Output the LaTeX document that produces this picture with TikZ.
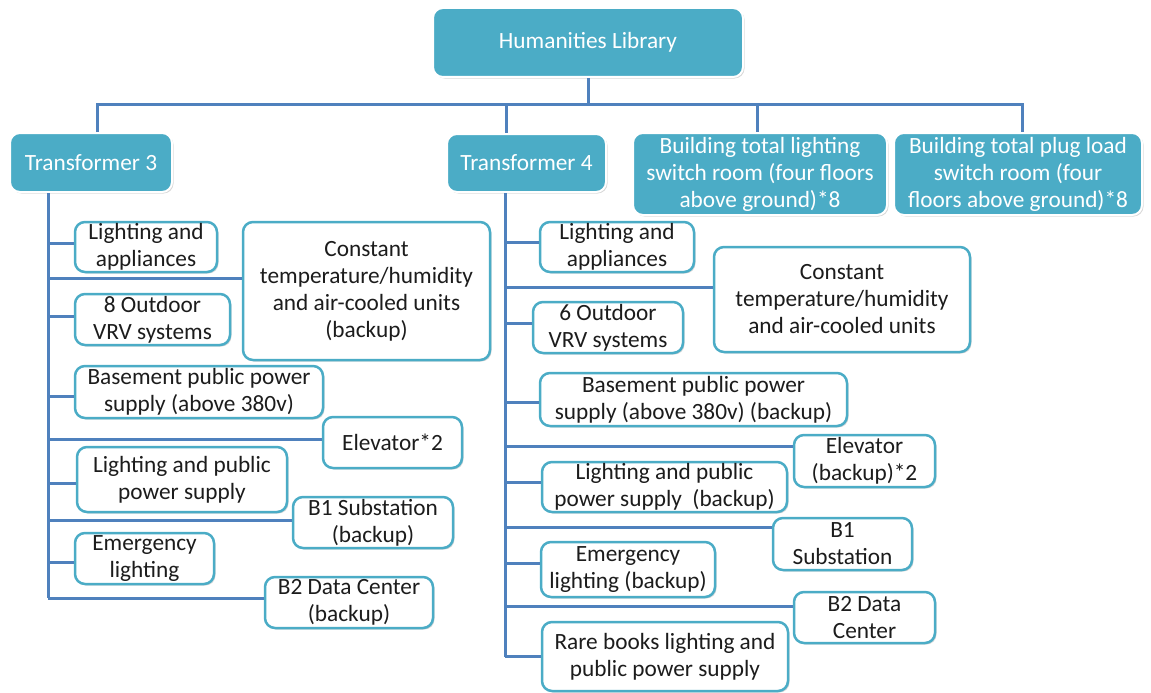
\documentclass[tikz,border=0pt]{standalone}
\usepackage{fontspec}
\setmainfont{Carlito}
\usetikzlibrary{shadows}
\definecolor{teal1}{HTML}{4BACC6}
\definecolor{wireblue}{HTML}{4F81BD}
\definecolor{txt}{HTML}{1C1C1C}
\tikzset{
  base/.style={rounded corners=10pt, inner sep=0pt, align=center,
    font=\fontsize{23.3}{27}\selectfont,
    drop shadow={shadow xshift=1.5pt, shadow yshift=-1.5pt, opacity=0.3, fill=gray}},
  headbox/.style={base, fill=teal1, draw=white, line width=2pt, text=white},
  leafbox/.style={base, fill=white, draw=teal1, line width=2.5pt, text=txt},
  wire/.style={draw=wireblue, line width=3pt},
  sz/.style n args={2}{minimum width=#1pt, minimum height=#2pt}
}
\begin{document}
\begin{tikzpicture}[x=1pt,y=-1pt]
\useasboundingbox (0,0) rectangle (1151,693);
% header boxes
\node[headbox, sz={310}{69}] (root) at (588,42.5) {Humanities Library};
\node[headbox, sz={162}{59}] (T3) at (91,162.5) {Transformer 3};
\node[headbox, sz={159}{58}] (T4) at (526.5,163) {Transformer 4};
\node[headbox, sz={254}{82}] (L) at (760,174) {Building total lighting\\switch room (four floors\\above ground)*8};
\node[headbox, sz={248}{82}] (P) at (1018,174) {Building total plug load\\switch room (four\\floors above ground)*8};
% left leaves
\node[leafbox, sz={142}{50}] (a1) at (146,247) {Lighting and\\appliances};
\node[leafbox, sz={247}{138}] (a2) at (366.5,291) {Constant\\temperature/humidity\\and air-cooled units\\(backup)};
\node[leafbox, sz={155}{51}] (a3) at (152.5,319.5) {8 Outdoor\\VRV systems};
\node[leafbox, sz={248}{52}] (a4) at (199,392) {Basement public power\\supply (above 380v)};
\node[leafbox, sz={139}{51}] (a5) at (392.5,442.5) {Elevator*2};
\node[leafbox, sz={210}{65}] (a6) at (182,479.5) {Lighting and public\\power supply};
\node[leafbox, sz={160}{51}] (a7) at (373,522.5) {B1 Substation\\(backup)};
\node[leafbox, sz={139}{51}] (a8) at (144.5,558.5) {Emergency\\lighting};
\node[leafbox, sz={168}{51}] (a9) at (349,602.5) {B2 Data Center\\(backup)};
% right leaves
\node[leafbox, sz={154}{50}] (b1) at (617,247) {Lighting and\\appliances};
\node[leafbox, sz={256}{105}] (b2) at (842,299.5) {Constant\\temperature/humidity\\and air-cooled units};
\node[leafbox, sz={150}{51}] (b3) at (608,327.5) {6 Outdoor\\VRV systems};
\node[leafbox, sz={307}{53}] (b4) at (693.5,399.5) {Basement public power\\supply (above 380v) (backup)};
\node[leafbox, sz={141}{52}] (b5) at (864.5,461) {Elevator\\(backup)*2};
\node[leafbox, sz={245}{50}] (b6) at (664.5,487) {Lighting and public\\power supply\ \ (backup)};
\node[leafbox, sz={139}{52}] (b7) at (842.5,544) {B1\\Substation};
\node[leafbox, sz={174}{55}] (b8) at (628,569.5) {Emergency\\lighting (backup)};
\node[leafbox, sz={141}{51}] (b9) at (864.5,617.5) {B2 Data\\Center};
\node[leafbox, sz={246}{69}] (b10) at (665,656.5) {Rare books lighting and\\public power supply};
% helper coordinates
\coordinate (bus) at (590,104);
\coordinate (v3) at (97,0);
\coordinate (v4) at (506,0);
\coordinate (vL) at (757,0);
\coordinate (vP) at (1022,0);
\coordinate (tr3) at (48,0);
\coordinate (tr4) at (505,0);
% top bus
\draw[wire] (root.south) -- (root.south |- bus);
\draw[wire] (v3 |- T3.north) -- (v3 |- bus) -- (vP |- bus) -- (vP |- P.north);
\draw[wire] (v4 |- bus) -- (v4 |- T4.north);
\draw[wire] (vL |- bus) -- (vL |- L.north);
% left branch points
\coordinate (pa1) at ([yshift=4pt]a1.west);
\coordinate (pa2) at ([yshift=13pt]a2.west);
\coordinate (pa3) at ([yshift=3.5pt]a3.west);
\coordinate (pa4) at ([yshift=-4pt]a4.west);
\coordinate (pa5) at ([yshift=3.5pt]a5.west);
\coordinate (pa6) at ([yshift=-3.5pt]a6.west);
\coordinate (pa7) at ([yshift=2.5pt]a7.west);
\coordinate (pa8) at ([yshift=-3.5pt]a8.west);
\coordinate (pa9) at ([yshift=4.5pt]a9.west);
\draw[wire] (tr3 |- T3.south) -- (tr3 |- pa9);
\foreach \p in {pa1,pa2,pa3,pa4,pa5,pa6,pa7,pa8,pa9}
  \draw[wire] (tr3 |- \p) -- (\p);
% right branch points
\coordinate (pb1) at ([yshift=5pt]b1.west);
\coordinate (pb2) at ([yshift=12.5pt]b2.west);
\coordinate (pb3) at ([yshift=4.5pt]b3.west);
\coordinate (pb4) at ([yshift=-2.5pt]b4.west);
\coordinate (pb5) at ([yshift=15pt]b5.west);
\coordinate (pb6) at ([yshift=5pt]b6.west);
\coordinate (pb7) at ([yshift=17pt]b7.west);
\coordinate (pb8) at ([yshift=6.5pt]b8.west);
\coordinate (pb9) at ([yshift=11.5pt]b9.west);
\coordinate (pb10) at (b10.west);
\draw[wire] (tr4 |- T4.south) -- (tr4 |- pb10);
\foreach \p in {pb1,pb2,pb3,pb4,pb5,pb6,pb7,pb8,pb9,pb10}
  \draw[wire] (tr4 |- \p) -- (\p);
\end{tikzpicture}
\end{document}
